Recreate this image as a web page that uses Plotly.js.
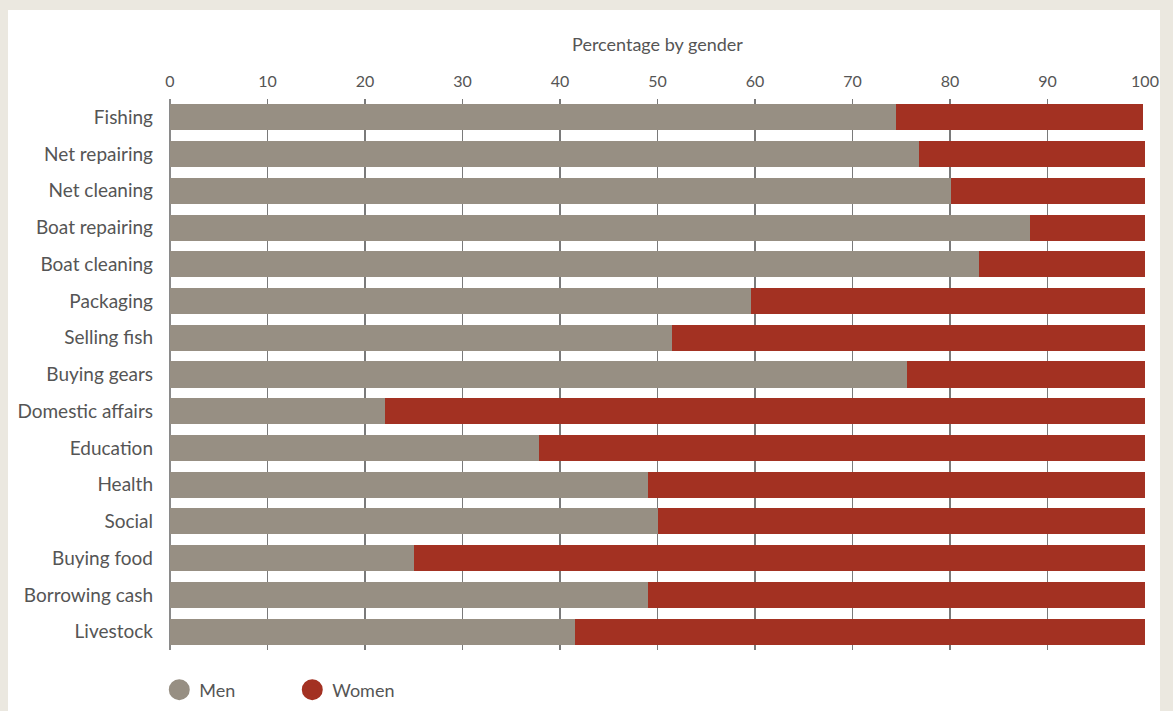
<!DOCTYPE html>
<html>
<head>
<meta charset="utf-8">
<script src="https://cdn.plot.ly/plotly-3.0.1.min.js"></script>
<style>
html,body{margin:0;padding:0;background:#ebe8e0;width:1173px;height:711px;overflow:hidden;}
#chart{position:absolute;left:8px;top:10px;width:1152px;height:701px;background:#fff;}
</style>
</head>
<body>
<div id="chart"></div>
<script>
const categories = ["Fishing","Net repairing","Net cleaning","Boat repairing","Boat cleaning","Packaging","Selling fish","Buying gears","Domestic affairs","Education","Health","Social","Buying food","Borrowing cash","Livestock"];
const men   = [74.5, 76.8, 80.1, 88.2, 83.0, 59.6, 51.5, 75.6, 22.1, 37.8, 49.0, 50.1, 25.0, 49.0, 41.5];
const women = [25.3, 23.2, 19.9, 11.8, 17.0, 40.4, 48.5, 24.4, 77.9, 62.2, 51.0, 49.9, 75.0, 51.0, 58.5];
const tickVals = [0,10,20,30,40,50,60,70,80,90,100];

const menColor = "#978f83";
const womenColor = "#a33122";
const textColor = "#555555";

const traces = [
  {type:"bar", orientation:"h", name:"Men", y:categories, x:men, marker:{color:menColor}, showlegend:false},
  {type:"bar", orientation:"h", name:"Women", y:categories, x:women, marker:{color:womenColor}, showlegend:false},
  {type:"scatter", mode:"markers", name:"Men", x:[null], y:[null], marker:{color:menColor, size:16, symbol:"circle", line:{color:menColor, width:5}}, showlegend:true},
  {type:"scatter", mode:"markers", name:"Women", x:[null], y:[null], marker:{color:womenColor, size:16, symbol:"circle", line:{color:womenColor, width:5}}, showlegend:true}
];

const layout = {
  width:1152, height:701,
  paper_bgcolor:"#ffffff", plot_bgcolor:"#ffffff",
  barmode:"stack", bargap:0.29,
  margin:{l:162, r:15, t:89, b:61, pad:0, autoexpand:false},
  font:{family:"'Source Sans Pro', Lato, 'Open Sans', sans-serif", color:textColor, size:16},
  xaxis:{
    side:"top", range:[0,100], tickvals:tickVals, ticktext:tickVals.map(String),
    showgrid:true, gridcolor:"#7a7a7a", gridwidth:1.5,
    zeroline:true, zerolinecolor:"#8a8a8a", zerolinewidth:1.5,
    showline:false, ticks:"", ticklabelstandoff:8, tickfont:{size:16, color:textColor},
    title:{text:"Percentage by gender", font:{size:18, color:textColor}, standoff:14},
    fixedrange:true, automargin:false
  },
  yaxis:{
    type:"category", autorange:"reversed", showgrid:false, zeroline:false, showline:false,
    ticks:"", ticklabelstandoff:16, tickfont:{size:19, color:textColor}, fixedrange:true, automargin:false
  },
  showlegend:true,
  legend:{orientation:"h", traceorder:"normal", xref:"paper", x:-0.011, xanchor:"left", yref:"container", y:0.03, yanchor:"middle",
          font:{size:18, color:textColor}, entrywidth:88, entrywidthmode:"pixels", itemsizing:"trace", bgcolor:"rgba(0,0,0,0)"}
};

Plotly.newPlot("chart", traces, layout, {displayModeBar:false, staticPlot:true});
</script>
</body>
</html>
